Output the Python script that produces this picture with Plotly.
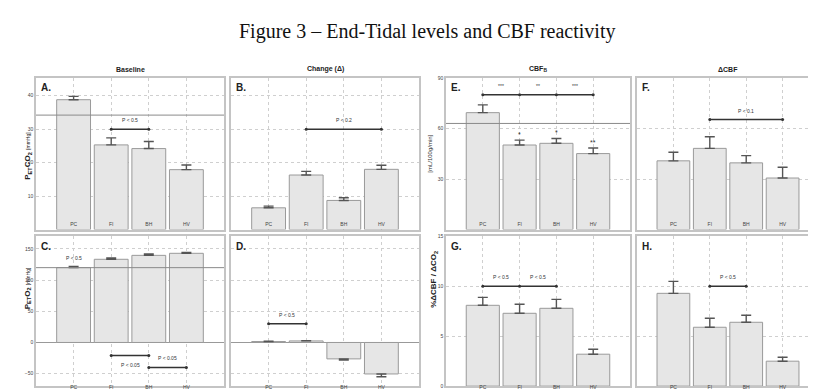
import plotly.graph_objects as go

W, H = 816, 389

categories = ["PC", "FI", "BH", "HV"]
cat_pos = [1, 2, 3, 4]

# Panel values (mean, error)
A_mean = [38.8, 25.3, 24.2, 17.9]
A_err = [1.0, 2.1, 2.1, 1.4]
B_mean = [6.5, 16.3, 8.7, 18.0]
B_err = [0.5, 1.1, 0.8, 1.2]
C_mean = [120.0, 133.4, 139.7, 143.0]
C_err = [2.0, 2.0, 2.3, 1.2]
D_mean = [1.5, 2.5, -26.3, -50.5]
D_err = [0.5, 0.5, 1.7, 4.5]
E_mean = [69.4, 50.2, 51.2, 45.1]
E_err = [4.6, 2.9, 2.9, 3.3]
F_mean = [40.8, 48.2, 39.6, 30.6]
F_err = [5.1, 6.9, 4.3, 6.4]
G_mean = [8.1, 7.3, 7.8, 3.2]
G_err = [0.8, 0.9, 0.9, 0.5]
H_mean = [9.3, 5.9, 6.4, 2.5]
H_err = [1.2, 0.9, 0.7, 0.4]

# Reference lines
A_ref = 34.2
C_ref = 120.0
E_ref = 63.0

# Y ranges and ticks
AB_range = [0, 45.3]
AB_ticks = [0, 10, 20, 30, 40]
CD_range = [-70, 170]
CD_ticks = [-50, 0, 50, 100, 150]
EF_range = [0, 90]
EF_ticks = [0, 30, 60, 90]
GH_range = [0, 15]
GH_ticks = [0, 5, 10, 15]

# Significance brackets: (categories spanned, level, labels, label side)
A_sig = [(["FI", "BH"], 30, ["P < 0.5"], 1)]
B_sig = [(["FI", "HV"], 30, ["P < 0.2"], 1)]
C_sig = [(["FI", "BH"], -21, ["P < 0.05"], -1), (["BH", "HV"], -40, ["P < 0.05"], 1)]
D_sig = [(["PC", "FI"], 30, ["P < 0.5"], 1)]
E_sig = [(["PC", "FI", "BH", "HV"], 80, ["***", "**", "***"], 1)]
F_sig = [(["FI", "HV"], 65.3, ["P < 0.1"], 1)]
G_sig = [(["PC", "FI", "BH"], 10, ["P < 0.5", "P < 0.5"], 1)]
H_sig = [(["FI", "BH"], 10, ["P < 0.5"], 1)]

C_top_labels = ["P < 0.5", "", "", ""]
E_stars = ["", "*", "*", "**"]

panel_titles = ["<b>Baseline</b>", "<b>Change (Δ)</b>", "<b>CBF<sub>B</sub></b>", "<b>ΔCBF</b>"]

# Layout geometry (pixels): left, right, top, bottom
cols_px = [(28, 216), (223, 411), (438, 622), (629, 811)]
rows_px = [(68, 222), (229, 381)]

def xd(px):
    return px / W

def yd(py):
    return 1 - py / H

panels = [
    dict(name="A", row=0, col=0, mean=A_mean, err=A_err, rng=AB_range, ticks=AB_ticks, labels=True, sig=A_sig, ref=A_ref),
    dict(name="B", row=0, col=1, mean=B_mean, err=B_err, rng=AB_range, ticks=AB_ticks, labels=False, sig=B_sig, ref=None),
    dict(name="E", row=0, col=2, mean=E_mean, err=E_err, rng=EF_range, ticks=EF_ticks, labels=True, sig=E_sig, ref=E_ref),
    dict(name="F", row=0, col=3, mean=F_mean, err=F_err, rng=EF_range, ticks=EF_ticks, labels=False, sig=F_sig, ref=None),
    dict(name="C", row=1, col=0, mean=C_mean, err=C_err, rng=CD_range, ticks=CD_ticks, labels=True, sig=C_sig, ref=C_ref),
    dict(name="D", row=1, col=1, mean=D_mean, err=D_err, rng=CD_range, ticks=CD_ticks, labels=False, sig=D_sig, ref=None),
    dict(name="G", row=1, col=2, mean=G_mean, err=G_err, rng=GH_range, ticks=GH_ticks, labels=True, sig=G_sig, ref=None),
    dict(name="H", row=1, col=3, mean=H_mean, err=H_err, rng=GH_range, ticks=GH_ticks, labels=False, sig=H_sig, ref=None),
]

fig = go.Figure()
layout = dict(
    width=W, height=H, autosize=False,
    margin=dict(l=0, r=0, t=0, b=0),
    paper_bgcolor="white", plot_bgcolor="white",
    showlegend=False,
    font=dict(family="Liberation Sans, Arial", color="#333"),
)
annotations = []
shapes = []

grid_color = "#cfcfcf"
frame_color = "#c4c4c4"
bar_fill = "#e6e6e6"
bar_line = "#9a9a9a"
err_color = "#555555"
sig_color = "#333333"
pos = {c: p for c, p in zip(categories, cat_pos)}

for i, p in enumerate(panels):
    k = i + 1
    xn = "x" if k == 1 else f"x{k}"
    yn = "y" if k == 1 else f"y{k}"
    xkey = "xaxis" if k == 1 else f"xaxis{k}"
    ykey = "yaxis" if k == 1 else f"yaxis{k}"
    l, r = cols_px[p["col"]]
    t, b = rows_px[p["row"]]
    top_row = p["row"] == 0

    plus = [e if m >= 0 else 0 for m, e in zip(p["mean"], p["err"])]
    minus = [0 if m >= 0 else e for m, e in zip(p["mean"], p["err"])]
    fig.add_trace(go.Bar(
        x=cat_pos, y=p["mean"], width=0.9,
        marker=dict(color=bar_fill, line=dict(color=bar_line, width=1)),
        error_y=dict(type="data", symmetric=False, array=plus, arrayminus=minus,
                     color=err_color, thickness=1.4, width=5),
        xaxis=xn, yaxis=yn, hoverinfo="skip",
    ))

    layout[xkey] = dict(
        domain=[xd(l), xd(r)], anchor=yn, range=[0, 5],
        tickmode="array", tickvals=cat_pos, ticktext=categories,
        tickfont=dict(size=5, color="#444"),
        ticklabelposition="inside" if top_row else "outside",
        ticklabelstandoff=1 if top_row else -5,
        ticks="", showgrid=True, gridcolor=grid_color, griddash="dot", gridwidth=1,
        showline=True, mirror=True, linecolor=frame_color, linewidth=1.5,
        zeroline=False, fixedrange=True,
    )
    layout[ykey] = dict(
        domain=[yd(b), yd(t)], anchor=xn, range=p["rng"],
        tickmode="array", tickvals=p["ticks"],
        showticklabels=p["labels"], tickfont=dict(size=5, color="#444"),
        ticks="", showgrid=True, gridcolor=grid_color, griddash="dot", gridwidth=1,
        showline=True, mirror=True, linecolor=frame_color, linewidth=1.5,
        zeroline=(p["rng"][0] < 0), zerolinecolor="#999", zerolinewidth=1,
        fixedrange=True,
    )

    # reference line
    if p["ref"] is not None:
        shapes.append(dict(type="line", xref=f"{xn} domain", yref=yn, x0=0, x1=1,
                           y0=p["ref"], y1=p["ref"], line=dict(color="#8a8a8a", width=1)))

    # significance brackets
    for cats, level, labs, side in p["sig"]:
        xs = [pos[c] for c in cats]
        fig.add_trace(go.Scatter(
            x=xs, y=[level] * len(xs), mode="lines+markers",
            line=dict(color=sig_color, width=1.5),
            marker=dict(color=sig_color, size=3),
            xaxis=xn, yaxis=yn, hoverinfo="skip",
        ))
        for j, lab in enumerate(labs):
            annotations.append(dict(
                x=(xs[j] + xs[j + 1]) / 2, y=level, xref=xn, yref=yn,
                text=lab, showarrow=False, font=dict(size=5, color="#333"),
                yshift=4 * side, xanchor="center",
                yanchor="bottom" if side > 0 else "top",
            ))

    # panel letter
    annotations.append(dict(
        x=0.015, y=0.985, xref=f"{xn} domain", yref=f"{yn} domain",
        text=f"<b>{p['name']}.</b>", showarrow=False, xanchor="left", yanchor="top",
        font=dict(size=10, color="#222", family="Liberation Sans, Arial"),
    ))

    if p["name"] == "C":
        for xp, m, e, lab in zip(cat_pos, p["mean"], p["err"], C_top_labels):
            if lab:
                annotations.append(dict(x=xp, y=m + e, xref=xn, yref=yn, text=lab,
                                        showarrow=False, yshift=3, yanchor="bottom",
                                        font=dict(size=5, color="#333")))
    if p["name"] == "E":
        for xp, m, e, lab in zip(cat_pos, p["mean"], p["err"], E_stars):
            if lab:
                annotations.append(dict(x=xp, y=m + e, xref=xn, yref=yn, text=lab,
                                        showarrow=False, yshift=0, yanchor="bottom",
                                        font=dict(size=7, color="#333")))

# right-side axis on panel H
fig.add_trace(go.Scatter(x=[0], y=[0], mode="markers", marker=dict(opacity=0),
                         xaxis="x8", yaxis="y9", hoverinfo="skip"))
layout["yaxis9"] = dict(overlaying="y8", side="right", anchor="x8", range=GH_range,
                        tickmode="array", tickvals=GH_ticks, showgrid=False,
                        tickfont=dict(size=3, color="#444"), ticks="", zeroline=False,
                        fixedrange=True, ticklabelstandoff=-1)

# panel column titles
for (l, r), ttl in zip(cols_px, panel_titles):
    annotations.append(dict(x=xd((l + r) / 2), y=yd(59), xref="paper", yref="paper",
                            text=ttl, showarrow=False, xanchor="center", yanchor="middle",
                            font=dict(size=7, color="#222")))

# y-axis titles
annotations.append(dict(x=xd(13), y=yd(147), xref="paper", yref="paper", textangle=-90,
                        text="<b>P<sub>ET</sub>CO<sub>2</sub></b> <span style='font-size:5px'>[mmHg]</span>",
                        showarrow=False, font=dict(size=8, color="#222")))
annotations.append(dict(x=xd(13), y=yd(305), xref="paper", yref="paper", textangle=-90,
                        text="<b>P<sub>ET</sub>O<sub>2</sub></b> <span style='font-size:5px'>[mmHg]</span>",
                        showarrow=False, font=dict(size=8, color="#222")))
annotations.append(dict(x=xd(422), y=yd(145), xref="paper", yref="paper", textangle=-90,
                        text="[mL/100g/min]", showarrow=False, font=dict(size=6, color="#333")))
annotations.append(dict(x=xd(426), y=yd(304), xref="paper", yref="paper", textangle=-90,
                        text="<b>%ΔCBF / ΔCO<sub>2</sub></b>", showarrow=False,
                        font=dict(size=8, color="#222")))

# main title
annotations.append(dict(x=xd(419), y=yd(21), xref="paper", yref="paper",
                        text="Figure 3 – End-Tidal levels and CBF reactivity",
                        showarrow=False, xanchor="center", yanchor="middle",
                        font=dict(size=20, color="#111", family="Liberation Serif, Times New Roman")))

layout["annotations"] = annotations
layout["shapes"] = shapes
fig.update_layout(**layout)
fig.write_html("out.html")
